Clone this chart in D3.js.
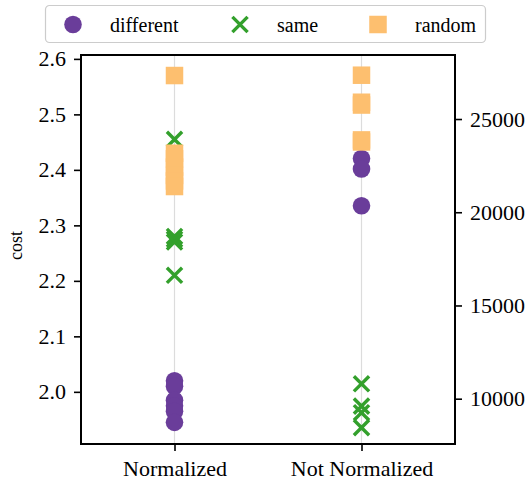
<!DOCTYPE html>
<html>
<head>
<meta charset="utf-8">
<script src="https://cdn.jsdelivr.net/npm/d3@7"></script>
<style>
  html, body { margin: 0; padding: 0; background: #fff; }
  svg { display: block; }
  svg text { font-family: "Liberation Serif", Tinos, "Times New Roman", "Nimbus Roman", "DejaVu Serif", serif; }
</style>
</head>
<body>
<svg id="chart" width="530" height="481"></svg>
<script>
// Categories on the x axis
const categories = ["Normalized", "Not Normalized"];

// Normalized run: values on the left "cost" axis
const normDifferent = [2.02, 2.01, 1.985, 1.975, 1.965, 1.945];
const normSame      = [2.455, 2.28, 2.275, 2.27, 2.21];
const normRandom    = [2.57, 2.43, 2.42, 2.405, 2.39, 2.38, 2.37];

// Not normalized run: values on the right axis
const rawDifferent = [22880, 22320, 20350];
const rawSame      = [10800, 9600, 9250, 8450];
const rawRandom    = [27350, 25900, 25750, 23880, 23770];

// Axis ticks
const leftTicks  = [2.0, 2.1, 2.2, 2.3, 2.4, 2.5, 2.6];
const rightTicks = [10000, 15000, 20000, 25000];

// Series styling
const seriesNames  = ["different", "same", "random"];
const seriesColors = { different: "#6a3d9a", same: "#33a02c", random: "#fdbf6f" };

const FONT = "'Liberation Serif', Tinos, 'Times New Roman', 'Nimbus Roman', 'DejaVu Serif', serif";

const svg = d3.select("#chart");
const plot = { left: 81, right: 455, top: 55, bottom: 444 };

const x = d3.scaleLinear().domain([-0.5, 1.5]).range([plot.left, plot.right]);
const yLeft = d3.scaleLinear().domain([1.906, 2.607]).range([plot.bottom, plot.top]);
const yRight = d3.scaleLinear().domain([7570, 28434]).range([plot.bottom, plot.top]);

// Vertical grid lines at each category
svg.append("g")
  .selectAll("line")
  .data(categories)
  .join("line")
  .attr("x1", (d, i) => x(i)).attr("x2", (d, i) => x(i))
  .attr("y1", plot.top).attr("y2", plot.bottom)
  .attr("stroke", "#dcdcdc").attr("stroke-width", 1.2);

// Build point lists for each series and axis
function points(values, catIndex, scale, series) {
  return values.map(v => ({ cx: x(catIndex), cy: scale(v), series }));
}
const layers = [
  points(normDifferent, 0, yLeft, "different").concat(points(rawDifferent, 1, yRight, "different")),
  points(normSame, 0, yLeft, "same").concat(points(rawSame, 1, yRight, "same")),
  points(normRandom, 0, yLeft, "random").concat(points(rawRandom, 1, yRight, "random"))
];

const R = 8.8;      // circle radius
const SQ = 17.5;    // square side
const XS = 7.6;     // half-size of the x marker

function drawMarker(sel, series) {
  const c = seriesColors[series];
  if (series === "different") {
    sel.append("circle").attr("r", R).attr("fill", c);
  } else if (series === "same") {
    sel.append("path")
      .attr("d", `M${-XS},${-XS}L${XS},${XS}M${-XS},${XS}L${XS},${-XS}`)
      .attr("stroke", c).attr("stroke-width", 3.4).attr("fill", "none");
  } else {
    sel.append("rect").attr("x", -SQ / 2).attr("y", -SQ / 2)
      .attr("width", SQ).attr("height", SQ).attr("fill", c);
  }
}

const marks = svg.append("g");
layers.forEach(layer => {
  marks.append("g")
    .selectAll("g")
    .data(layer)
    .join("g")
    .attr("transform", d => `translate(${d.cx},${d.cy})`)
    .each(function (d) { drawMarker(d3.select(this), d.series); });
});

// Axes
const tickFont = "22px";
const leftAxis = d3.axisLeft(yLeft).tickValues(leftTicks).tickFormat(d3.format(".1f")).tickSize(7).tickPadding(8);
const rightAxis = d3.axisRight(yRight).tickValues(rightTicks).tickFormat(d3.format("d")).tickSize(7).tickPadding(8);
const bottomAxis = d3.axisBottom(x).tickValues([0, 1]).tickFormat(i => categories[i]).tickSize(7).tickPadding(9);

function styleAxis(g) {
  g.attr("font-family", FONT).attr("font-size", tickFont);
  g.select(".domain").remove();
  g.selectAll(".tick line").attr("stroke", "#000").attr("stroke-width", 1.6);
  g.selectAll(".tick text").attr("fill", "#000");
}

svg.append("g").attr("transform", `translate(${plot.left},0)`).call(leftAxis).call(styleAxis);
svg.append("g").attr("transform", `translate(${plot.right},0)`).call(rightAxis).call(styleAxis);
svg.append("g").attr("transform", `translate(0,${plot.bottom})`).call(bottomAxis).call(styleAxis);

// Frame
svg.append("rect")
  .attr("x", plot.left).attr("y", plot.top)
  .attr("width", plot.right - plot.left).attr("height", plot.bottom - plot.top)
  .attr("fill", "none").attr("stroke", "#000").attr("stroke-width", 2);

// Y axis title
svg.append("text")
  .attr("transform", `translate(22,${(plot.top + plot.bottom) / 2 - 4}) rotate(-90)`)
  .attr("text-anchor", "middle")
  .attr("font-family", FONT)
  .attr("font-size", "18px")
  .text("cost");

// Legend
const legend = svg.append("g");
legend.append("rect")
  .attr("x", 45.5).attr("y", 5.5).attr("width", 440).attr("height", 37)
  .attr("rx", 4).attr("fill", "#fff").attr("stroke", "#cccccc").attr("stroke-width", 1.2);

const legendMarkerX = [73, 240, 378];
const legendTextX = [110, 277, 415];
seriesNames.forEach((s, i) => {
  const g = legend.append("g").attr("transform", `translate(${legendMarkerX[i]},24.5)`);
  drawMarker(g, s);
  legend.append("text")
    .attr("x", legendTextX[i]).attr("y", 24.5)
    .attr("dy", "0.35em")
    .attr("font-family", FONT)
    .attr("font-size", "20px")
    .text(s);
});
</script>
</body>
</html>
